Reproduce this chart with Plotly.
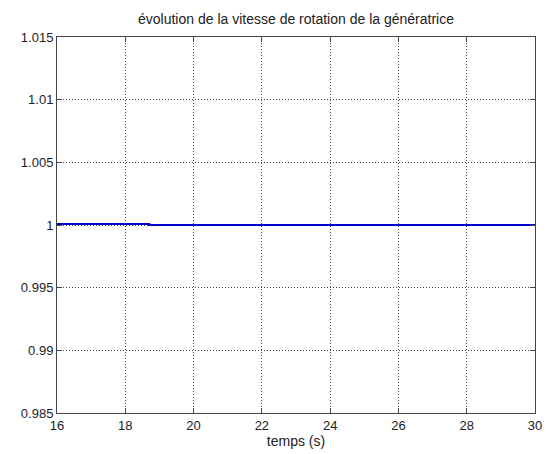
import plotly.graph_objects as go

temps = [16.0, 18.7, 18.7, 30.0]
vitesse = [1.00008, 1.00008, 1.0, 1.0]
x_ticks = [16, 18, 20, 22, 24, 26, 28, 30]
y_ticks = [0.985, 0.99, 0.995, 1.0, 1.005, 1.01, 1.015]
y_labels = ["0.985", "0.99", "0.995", "1", "1.005", "1.01", "1.015"]

fig = go.Figure()
fig.add_trace(go.Scatter(x=temps, y=vitesse, mode="lines",
                         line=dict(color="#0000c8", width=2.2), showlegend=False))

axis_common = dict(showline=True, linecolor="#444", linewidth=1, mirror="ticks",
                   ticks="inside", ticklen=5, tickcolor="#444", automargin=False,
                   showgrid=True, gridcolor="#444", griddash="1px,2px", gridwidth=1,
                   zeroline=False, tickfont=dict(family="Liberation Sans, Arial", size=13, color="#222"))

fig.update_layout(
    width=547, height=454,
    margin=dict(l=57, r=12, t=37, b=41),
    paper_bgcolor="white", plot_bgcolor="white",
    title=dict(text="évolution de la vitesse de rotation de la génératrice",
               x=0.5, xanchor="center", xref="paper", y=1 - 19/454, yanchor="middle",
               font=dict(family="Liberation Sans, Arial", size=14, color="#222")),
    xaxis=dict(range=[16, 30], tickvals=x_ticks, ticktext=[str(v) for v in x_ticks],
               title=dict(text="temps (s)", font=dict(family="Liberation Sans, Arial", size=14, color="#222"), standoff=3),
               **axis_common),
    yaxis=dict(range=[0.985, 1.015], tickvals=y_ticks, ticktext=y_labels, **axis_common),
)

fig.write_html("out.html", config={"displayModeBar": False},
               post_script="document.body.style.margin='0';document.body.style.overflow='hidden';")
